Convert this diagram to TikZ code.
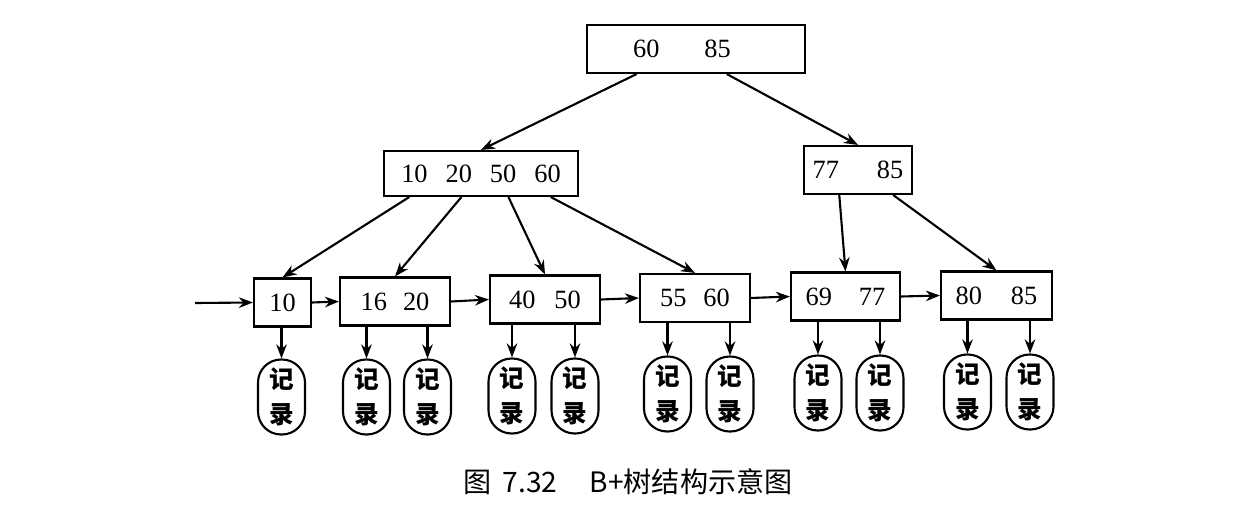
\documentclass[tikz,border=0pt]{standalone}
\usepackage{fontspec}
\setmainfont{Liberation Serif}
\newfontfamily\cjk{Noto Sans CJK SC}
\usetikzlibrary{arrows.meta,calc}
\begin{document}
\begin{tikzpicture}[x=0.02cm,y=-0.02cm,
  box/.style={draw,line width=1.2pt,minimum height=0.96cm,inner sep=0pt,font=\fontsize{15}{16}\selectfont},
  rec/.style={draw,line width=1.2pt,rounded corners=0.46cm,minimum width=0.94cm,minimum height=1.5cm,inner sep=0pt,align=center,font=\cjk\bfseries\fontsize{14}{20}\selectfont},
  arr/.style={line width=1.2pt,-{Stealth[length=8pt,width=6pt]}}]
\useasboundingbox (0,0) rectangle (1249,531);

% tree nodes
\node[box,minimum width=4.36cm] (root) at (696,49) {60\hspace{0.9cm}85\hspace*{0.56cm}};
\node[box,minimum width=3.88cm,minimum height=0.9cm] (ml) at (481,173.5) {10\hspace{0.36cm}20\hspace{0.36cm}50\hspace{0.36cm}60};
\node[box,minimum width=2.16cm] (mr) at (858,170) {77\hspace{0.76cm}85};

% leaves
\node[box,minimum width=1.14cm] (l1) at (282.5,302.5) {10};
\node[box,minimum width=2.2cm] (l2) at (395,301.5) {16\hspace{0.32cm}20};
\node[box,minimum width=2.2cm] (l3) at (545,299.5) {40\hspace{0.38cm}50};
\node[box,minimum width=2.2cm] (l4) at (695,298) {55\hspace{0.34cm}60};
\node[box,minimum width=2.18cm] (l5) at (845.5,296.5) {69\hspace{0.54cm}77};
\node[box,minimum width=2.22cm] (l6) at (996.5,295.5) {80\hspace{0.58cm}85};

% records
\node[rec] (r1) at (281.5,397) {记\\录};
\node[rec] (r2) at (366.5,397) {记\\录};
\node[rec] (r3) at (427.5,397) {记\\录};
\node[rec] (r4) at (512,396) {记\\录};
\node[rec] (r5) at (575,396) {记\\录};
\node[rec] (r6) at (667.5,394) {记\\录};
\node[rec] (r7) at (730,394) {记\\录};
\node[rec] (r8) at (818,393) {记\\录};
\node[rec] (r9) at (880,393) {记\\录};
\node[rec] (r10) at (967.5,392) {记\\录};
\node[rec] (r11) at (1030,392) {记\\录};

% caption
\node[font=\cjk\fontsize{16}{18}\selectfont] (cap) at (628,482) {图\hspace{0.22cm}7.32\hspace{0.65cm}B+树结构示意图};

\coordinate (in) at (195,303);

% tree connectors
\draw[arr] ($(root.south west)!0.23!(root.south east)$) -- (ml.north);
\draw[arr] ($(root.south west)!0.64!(root.south east)$) -- (mr.north);
\draw[arr] ($(ml.south west)!0.134!(ml.south east)$) -- (l1.north);
\draw[arr] ($(ml.south west)!0.40!(ml.south east)$) -- (l2.north);
\draw[arr] ($(ml.south west)!0.64!(ml.south east)$) -- (l3.north);
\draw[arr] ($(ml.south west)!0.856!(ml.south east)$) -- (l4.north);
\draw[arr] ($(mr.south west)!0.33!(mr.south east)$) -- (l5.north);
\draw[arr] ($(mr.south west)!0.82!(mr.south east)$) -- (l6.north);

% leaf chain
\draw[arr] (in) -- (l1.west);
\draw[arr] (l1.east) -- (l2.west);
\draw[arr] (l2.east) -- (l3.west);
\draw[arr] (l3.east) -- (l4.west);
\draw[arr] (l4.east) -- (l5.west);
\draw[arr] (l5.east) -- (l6.west);

% record pointers
\draw[arr] (r1.north |- l1.south) -- (r1.north);
\draw[arr] (r2.north |- l2.south) -- (r2.north);
\draw[arr] (r3.north |- l2.south) -- (r3.north);
\draw[arr] (r4.north |- l3.south) -- (r4.north);
\draw[arr] (r5.north |- l3.south) -- (r5.north);
\draw[arr] (r6.north |- l4.south) -- (r6.north);
\draw[arr] (r7.north |- l4.south) -- (r7.north);
\draw[arr] (r8.north |- l5.south) -- (r8.north);
\draw[arr] (r9.north |- l5.south) -- (r9.north);
\draw[arr] (r10.north |- l6.south) -- (r10.north);
\draw[arr] (r11.north |- l6.south) -- (r11.north);
\end{tikzpicture}
\end{document}
